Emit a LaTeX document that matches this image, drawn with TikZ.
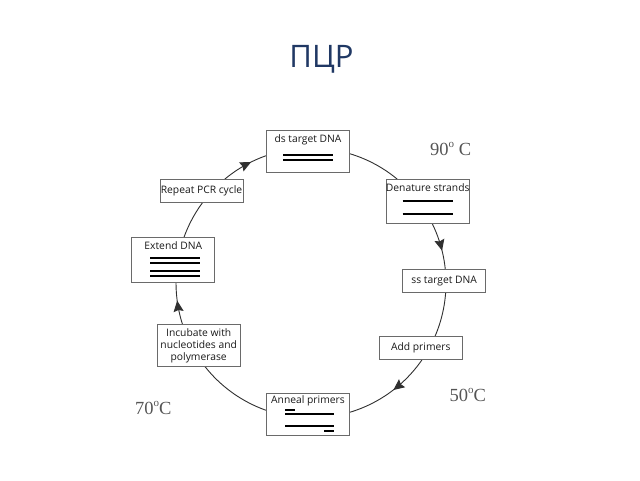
\documentclass[tikz,border=0pt]{standalone}
\usepackage{fontspec}
\setmainfont{Liberation Serif}
\newfontfamily\boxfont{Open Sans}
\newfontfamily\titlefont{Open Sans}
\usetikzlibrary{calc,arrows.meta,decorations.markings,backgrounds}
\definecolor{titleblue}{HTML}{203864}
\definecolor{tempgray}{HTML}{555555}
\definecolor{boxline}{HTML}{6A6A6A}
\definecolor{ringcol}{HTML}{303030}
\def\ringR{135pt}
\newcommand{\dego}{\raisebox{0.42em}{\fontsize{11}{11}\selectfont o}}
\newcommand{\ringarc}[4]{%
  \draw[ring,#4] let \p1=($(#1)-(O)$), \p2=($(#2)-(O)$),
     \n1={atan2(\y1,\x1)}, \n2={atan2(\y2,\x2)#3} in
     ($(O)+(\n1:\ringR)$) arc[start angle=\n1, end angle=\n2, radius=\ringR];}
\begin{document}
\begin{tikzpicture}[x=1pt,y=1pt,
  box/.style={draw=boxline, line width=0.7pt, fill=white, minimum width=83pt,
    inner sep=0pt, font=\boxfont\fontsize{10.3}{12}\selectfont, text=black!90, align=center},
  lbl/.style={inner sep=0pt, anchor=base, font=\boxfont\fontsize{10.3}{12}\selectfont, text=black!90},
  strand/.style={line width=2pt},
  ring/.style={draw=ringcol, line width=0.9pt},
  arrowat/.style={postaction={decorate}, decoration={markings,
    mark=at position #1 with {\arrow[ringcol]{Stealth[length=11pt,width=10pt,inset=1.5pt]}}}},
  temp/.style={font=\fontsize{18.5}{20}\selectfont, text=tempgray, anchor=base west, inner sep=0pt}]
\useasboundingbox (0,0) rectangle (640,-480);

\node[inner sep=0pt, anchor=base, font=\titlefont\fontsize{31}{34}\selectfont, text=titleblue] (title) at (321.5,-67) {ПЦР};

\coordinate (O) at (311,-283);

% boxes
\node[box, minimum height=42pt] (ds) at (308,-151) {};
\node[lbl] (dsT) at ([yshift=-12.5pt]ds.north) {ds target DNA};
\draw[strand] ([xshift=-25pt,yshift=-25pt]ds.north) -- ([xshift=25pt,yshift=-25pt]ds.north);
\draw[strand] ([xshift=-25pt,yshift=-30.7pt]ds.north) -- ([xshift=25pt,yshift=-30.7pt]ds.north);

\node[box, minimum height=44pt] (den) at (427.7,-201.3) {};
\node[lbl] (denT) at ([yshift=-12.4pt]den.north) {Denature strands};
\draw[strand] ([xshift=-25pt,yshift=-22.4pt]den.north) -- ([xshift=25pt,yshift=-22.4pt]den.north);
\draw[strand] ([xshift=-25pt,yshift=-35pt]den.north) -- ([xshift=25pt,yshift=-35pt]den.north);

\node[box, minimum height=23pt] (ss) at (444.2,-280.8) {ss target DNA};

\node[box, minimum height=22.3pt] (add) at (420.8,-347.8) {Add primers};

\node[box, minimum height=42.4pt] (ann) at (308,-414.5) {};
\node[lbl] (annT) at ([yshift=-10.5pt]ann.north) {Anneal primers};
\draw[strand] (285,-410) -- (295,-410);
\draw[strand] (285,-414) -- (334.3,-414);
\draw[strand] (285,-426) -- (334.3,-426);
\draw[strand] (324,-430.5) -- (334.3,-430.5);

\node[box, minimum height=42.4pt] (inc) at (198.7,-345.5) {Incubate with\\nucleotides and\\polymerase};

\node[box, minimum height=44.6pt] (ext) at (173.3,-260) {};
\node[lbl] (extT) at ([yshift=-12pt]ext.north) {Extend DNA};
\draw[strand] (150,-257.7) -- (199.5,-257.7);
\draw[strand] (150,-262.5) -- (199.5,-262.5);
\draw[strand] (150,-271) -- (199.5,-271);
\draw[strand] (150,-275.5) -- (199.5,-275.5);

\node[box, minimum height=23pt] (rep) at (201.5,-190.8) {Repeat PCR cycle};

% ring connectors
\begin{scope}[on background layer]
\ringarc{ds}{den}{}{}
\ringarc{den}{ss}{}{arrowat=0.62}
\ringarc{ss}{add}{}{}
\ringarc{add}{ann}{}{arrowat=0.36}
\ringarc{ann}{inc}{}{}
\ringarc{inc}{ext}{-360}{arrowat=0.56}
\ringarc{ext}{rep}{}{}
\ringarc{rep}{ds}{}{arrowat=0.485}
\end{scope}

% temperatures
\node[temp] (t90) at (430,-155.5) {90\dego{} C};
\node[temp] (t50) at (449.5,-401.7) {50\dego C};
\node[temp] (t70) at (135,-414.5) {70\dego C};
\end{tikzpicture}
\end{document}
